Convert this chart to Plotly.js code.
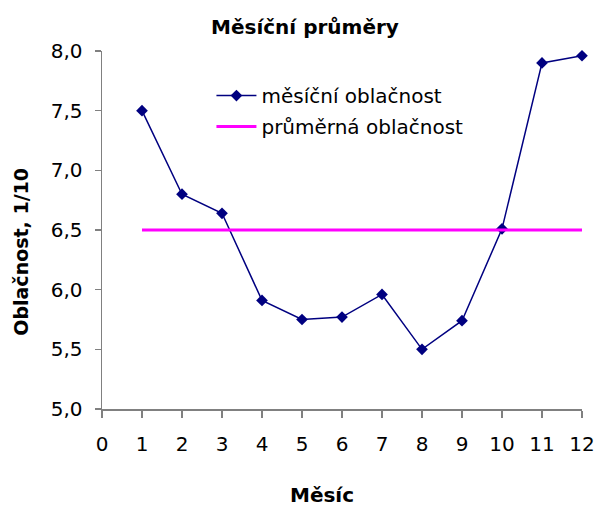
<!DOCTYPE html>
<html>
<head>
<meta charset="utf-8">
<script src="https://cdn.plot.ly/plotly-3.0.1.min.js"></script>
<style>html,body{margin:0;padding:0;background:#fff;}#chart{width:598px;height:508px;}</style>
</head>
<body>
<div id="chart"></div>
<script>
const months = [1, 2, 3, 4, 5, 6, 7, 8, 9, 10, 11, 12];
const monthlyCloud = [7.50, 6.80, 6.64, 5.91, 5.75, 5.77, 5.96, 5.50, 5.74, 6.51, 7.90, 7.96];
const avgCloud = [6.5, 6.5, 6.5, 6.5, 6.5, 6.5, 6.5, 6.5, 6.5, 6.5, 6.5, 6.5];
const xTicks = [0, 1, 2, 3, 4, 5, 6, 7, 8, 9, 10, 11, 12];
const yTicks = [5.0, 5.5, 6.0, 6.5, 7.0, 7.5, 8.0];
const yTickLabels = ["5,0", "5,5", "6,0", "6,5", "7,0", "7,5", "8,0"];

const font = "DejaVu Sans, Liberation Sans, Arial, sans-serif";

const traces = [
  {
    x: months, y: monthlyCloud, type: 'scatter', mode: 'lines+markers',
    name: 'měsíční oblačnost', legendgroup: 'a',
    line: {color: '#000080', width: 1.5},
    marker: {symbol: 'diamond', size: 9, color: '#000080'},
    cliponaxis: false
  },
  {
    x: months, y: avgCloud, type: 'scatter', mode: 'lines',
    name: 'průměrná oblačnost', legendgroup: 'b',
    line: {color: '#FF00FF', width: 3},
    cliponaxis: false
  }
];

const layout = {
  width: 598, height: 508,
  margin: {l: 102, r: 16, t: 51, b: 99},
  paper_bgcolor: '#fff', plot_bgcolor: '#fff',
  font: {family: font, color: '#000'},
  title: {text: '<b>Měsíční průměry</b>', font: {size: 20, family: font}, x: 0.51, xref: 'container', xanchor: 'center', y: 0.947, yref: 'container', yanchor: 'middle'},
  showlegend: true,
  legend: {x: 0.228, y: 0.93, xanchor: 'left', yanchor: 'top', font: {size: 20, family: font}, bgcolor: 'rgba(0,0,0,0)', traceorder: 'grouped', tracegroupgap: 2, itemwidth: 40},
  xaxis: {
    range: [0, 12], tickvals: xTicks, ticktext: xTicks.map(String),
    showgrid: false, zeroline: false, showline: true, linecolor: '#808080', linewidth: 1.5,
    ticks: 'outside', ticklen: 7, tickcolor: '#808080', tickwidth: 1.5,
    tickfont: {size: 20, family: font}, ticklabelstandoff: 9
  },
  yaxis: {
    range: [5, 8], tickvals: yTicks, ticktext: yTickLabels,
    showgrid: false, zeroline: false, showline: true, linecolor: '#808080', linewidth: 1.5,
    ticks: 'outside', ticklen: 6, tickcolor: '#808080', tickwidth: 1.5,
    tickfont: {size: 20, family: font}, ticklabelstandoff: 8
  },
  annotations: [
    {text: '<b>Měsíc</b>', xref: 'paper', yref: 'paper', x: 0.458, y: -0.24, xanchor: 'center', yanchor: 'middle', showarrow: false, font: {size: 20, family: font}},
    {text: '<b>Oblačnost, 1/10</b>', xref: 'paper', yref: 'paper', x: -0.169, y: 0.439, xanchor: 'center', yanchor: 'middle', textangle: -90, showarrow: false, font: {size: 19, family: font}}
  ]
};

Plotly.newPlot('chart', traces, layout, {displayModeBar: false, staticPlot: true});
</script>
</body>
</html>
